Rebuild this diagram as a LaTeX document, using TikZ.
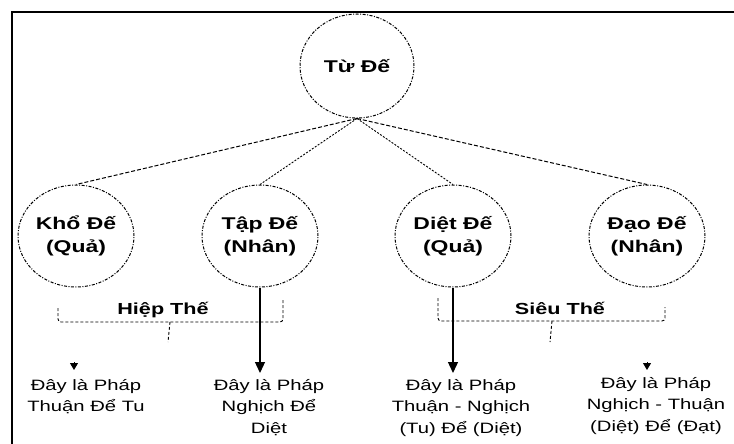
\documentclass[tikz,border=0pt]{standalone}
\usepackage{fontspec}
\setmainfont{Liberation Sans}[FakeStretch=1.35]
\usetikzlibrary{arrows.meta,shapes.geometric}

\begin{document}
\begin{tikzpicture}[x=1pt, y=-1pt,
  de/.style={ellipse, draw, line width=1pt,
    dash pattern=on 3pt off 1.5pt on 1pt off 1.5pt,
    minimum width=116pt, minimum height=102pt, inner sep=0pt,
    align=center, font=\fontsize{17}{23}\selectfont\bfseries},
  link/.style={draw, line width=1pt, dash pattern=on 4pt off 2pt},
  linkdot/.style={draw, line width=0.9pt, dash pattern=on 2pt off 1.5pt},
  brk/.style={draw, line width=0.9pt, dash pattern=on 3pt off 2pt},
  pointer/.style={-{Triangle[width=10pt,length=11pt]}, line width=1.3pt},
  smallhead/.style={-{Triangle[width=8pt,length=7pt]}, line width=1pt},
  phap/.style={anchor=north, align=center, inner sep=1pt,
    font=\fontsize{15}{21.5}\selectfont},
  thelbl/.style={font=\fontsize{16}{18}\selectfont\bfseries}]

  \newcommand\TopY{66}
  \newcommand\MidY{236}
  \newcommand\TxtY{378}

  \useasboundingbox (0,0) rectangle (734,444);

  %% frame
  \draw[line width=1.3pt] (12,444) -- (12,12) -- (734,12);

  \node[de, minimum width=114pt, minimum height=104pt] (tu) at (357,\TopY) {Từ Đế};
  \node[de] (kho)  at (76,\MidY)  {Khổ Đế\\(Quả)};
  \node[de] (tap)  at (260,\MidY) {Tập Đế\\(Nhân)};
  \node[de] (diet) at (453,\MidY) {Diệt Đế\\(Quả)};
  \node[de] (dao)  at (647,\MidY) {Đạo Đế\\(Nhân)};

  \draw[link]    (tu.south) -- (kho.north);
  \draw[linkdot] (tu.south) -- (tap.north);
  \draw[linkdot] (tu.south) -- (diet.north);
  \draw[link]    (tu.south) -- (dao.north);

  \node[phap] (khoTxt)  at (86,\TxtY)  {Đây là Pháp\\Thuận Để Tu};
  \node[phap] (tapTxt)  at (269,\TxtY) {Đây là Pháp\\Nghịch Để\\Diệt};
  \node[phap] (dietTxt) at (461,\TxtY) {Đây là Pháp\\Thuận - Nghịch\\(Tu) Để (Diệt)};
  \node[phap] (daoTxt)  at (656,\TxtY-2) {Đây là Pháp\\Nghịch - Thuận\\(Diệt) Để (Đạt)};

  \draw[pointer, shorten >=5pt] (tap.south) -- (tap.south |- tapTxt.north);   %% tap -> text
  \draw[pointer, shorten >=5pt] (diet.south) -- (diet.south |- dietTxt.north); %% diet -> text

  \coordinate (khoTip) at (74,370);
  \coordinate (daoTip) at (647,370);
  \draw[smallhead] ([yshift=8pt]khoTip) -- (khoTip);
  \draw[smallhead] ([yshift=8pt]daoTip) -- (daoTip);

  %% brackets
  \coordinate (hiepL) at (58,308);
  \coordinate (hiepR) at (283,300);
  \coordinate (hiepB) at (170,322);
  \draw[brk, rounded corners=3pt] (hiepL) -- (hiepL |- hiepB) -- (hiepR |- hiepB) -- (hiepR);
  \draw[brk] (hiepB) -- ++(-2,20);
  \node[thelbl] (hiep) at (163,310) {Hiệp Thế};

  \coordinate (sieuL) at (438,298);
  \coordinate (sieuR) at (665,307);
  \coordinate (sieuB) at (552,321);
  \draw[brk, rounded corners=3pt] (sieuL) -- (sieuL |- sieuB) -- (sieuR |- sieuB) -- (sieuR);
  \draw[brk] (sieuB) -- ++(-2,21);
  \node[thelbl] (sieu) at (560,308) {Siêu Thế};
\end{tikzpicture}
\end{document}
